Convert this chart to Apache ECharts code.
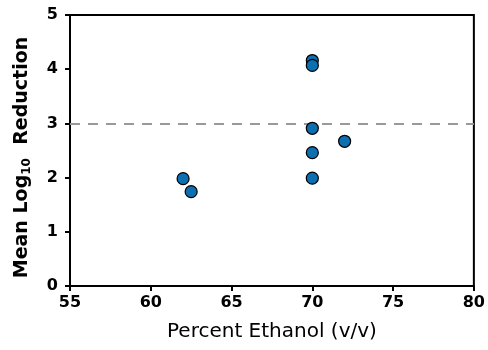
<!DOCTYPE html>
<html>
<head>
<meta charset="utf-8">
<script src="https://cdn.jsdelivr.net/npm/echarts@6/dist/echarts.min.js"></script>
<style>
  html, body { margin: 0; padding: 0; background: #fff; }
  #chart { width: 488px; height: 350px; }
</style>
</head>
<body>
<div id="chart"></div>
<script>
// Percent ethanol (v/v) vs mean log10 reduction
const ethanolPct = [62, 62.5, 70, 70, 70, 70, 70, 72];
const logReduction = [1.98, 1.74, 4.16, 4.07, 2.91, 2.46, 1.99, 2.67];
const targetReduction = 3;

const points = ethanolPct.map((x, i) => [x, logReduction[i]]);

const chart = echarts.init(document.getElementById('chart'));
const fontFamily = '"DejaVu Sans", sans-serif';

chart.setOption({
  animation: false,
  grid: {
    left: 70,
    right: 11,
    top: 15,
    bottom: 64,
    show: true,
    borderColor: '#000',
    borderWidth: 2,
    backgroundColor: 'transparent',
  },
  xAxis: {
    type: 'value',
    min: 55,
    max: 80,
    interval: 5,
    name: 'Percent Ethanol (v/v)',
    nameLocation: 'middle',
    nameGap: 36,
    nameTextStyle: { fontFamily, fontSize: 20, color: '#000' },
    axisLine: { show: true, lineStyle: { color: '#000', width: 2 } },
    axisTick: { show: true, length: 5, lineStyle: { color: '#000', width: 2 } },
    axisLabel: { fontFamily, fontSize: 16, fontWeight: 'bold', color: '#000', margin: 9 },
    splitLine: { show: false },
  },
  yAxis: {
    type: 'value',
    min: 0,
    max: 5,
    interval: 1,
    name: '{a|Mean Log}{s|10}{a|  Reduction}',
    nameLocation: 'middle',
    nameGap: 37,
    nameTextStyle: {
      padding: [0, 14, 0, 0],
      rich: {
        a: { fontFamily, fontSize: 19, fontWeight: 'bold', color: '#000' },
        s: { fontFamily, fontSize: 12, fontWeight: 'bold', color: '#000', verticalAlign: 'bottom', padding: [10, 0, 0, 0] },
      },
    },
    axisLine: { show: true, lineStyle: { color: '#000', width: 2 } },
    axisTick: { show: true, length: 5, lineStyle: { color: '#000', width: 2 } },
    axisLabel: { fontFamily, fontSize: 16, fontWeight: 'bold', color: '#000', margin: 12 },
    splitLine: { show: false },
  },
  series: [{
    type: 'scatter',
    data: points,
    symbol: 'circle',
    symbolSize: 12,
    itemStyle: { color: '#0c6fb0', borderColor: '#000', borderWidth: 1.2, opacity: 1 },
    z: 3,
    markLine: {
      silent: true,
      symbol: 'none',
      label: { show: false },
      lineStyle: { color: '#999', type: [10, 8], width: 2 },
      data: [{ yAxis: targetReduction }],
      z: 1,
    },
  }],
});
</script>
</body>
</html>
